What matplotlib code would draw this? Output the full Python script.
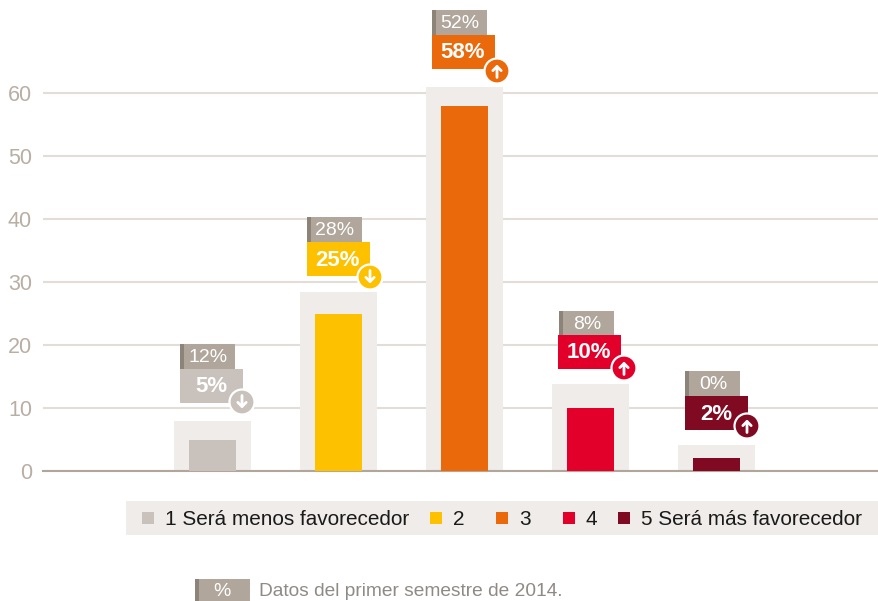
import matplotlib
matplotlib.use("Agg")
import matplotlib.pyplot as plt
from matplotlib.patches import Rectangle, Circle

plt.rcParams['font.family'] = ['Liberation Sans', 'DejaVu Sans']

positions = [1, 2, 3, 4, 5]
current_values = [5, 25, 58, 10, 2]
background_values = [8, 28.5, 61.1, 13.8, 4.1]
current_labels = ['5%', '25%', '58%', '10%', '2%']
previous_labels = ['12%', '28%', '52%', '8%', '0%']
directions = ['down', 'down', 'up', 'up', 'up']
colors = ['#c9c1bb', '#fdc100', '#ea690b', '#e2002a', '#800a22']
legend_labels = ['1 Será menos favorecedor', '2', '3', '4', '5 Será más favorecedor']
yticks = [0, 10, 20, 30, 40, 50, 60]

BG = '#f0ece9'
GREY = '#b0a69b'
STRIP = '#8c8379'
GRID = '#e3ddd8'
TICK = '#b9aea4'

W, H = 879, 601
fig = plt.figure(figsize=(W / 100, H / 100), dpi=100)

# main chart axes: y=0 at pixel 471, y=60 at pixel 93.5
ax = fig.add_axes([43 / W, (H - 471) / H, (W - 43) / W, 471 / H])
ax.set_ylim(0, 471 / 6.292)
ax.set_xlim(1 + (43 - 212.4) / 126.0, 1 + (W - 212.4) / 126.0)
ax.set_axisbelow(True)
ax.grid(axis='y', color=GRID, lw=1.5)
ax.set_yticks(yticks)
ax.set_yticklabels([str(t) for t in yticks], fontsize=15.5, color=TICK)
ax.tick_params(axis='y', length=0, pad=8)
ax.set_xticks([])
for s in ['top', 'right', 'left']:
    ax.spines[s].set_visible(False)
ax.spines['bottom'].set_color(GREY)
ax.spines['bottom'].set_linewidth(1.5)
ax.bar(positions, background_values, width=77 / 126, color=BG, zorder=2)
ax.bar(positions, current_values, width=47 / 126, color=colors, zorder=3)
ax.patch.set_alpha(0)

# overlay in pixel coordinates for callouts, legend and footnote
ov = fig.add_axes([0, 0, 1, 1])
ov.set_xlim(0, W)
ov.set_ylim(H, 0)
ov.axis('off')
ov.patch.set_alpha(0)

# left, top of grey box; left, top of coloured box; circle centre
grey_boxes = [(180, 344), (307, 217), (432, 10), (559, 311), (685, 371)]
main_boxes = [(180, 368.5), (307, 242), (432, 35), (558, 335), (685, 396)]
circles = [(242, 402), (370, 277), (497, 71), (624, 368), (747, 426)]

for i in range(5):
    gx, gy = grey_boxes[i]
    mx, my = main_boxes[i]
    cx, cy = circles[i]
    ov.add_patch(Rectangle((gx, gy), 55, 25, color=GREY, lw=0, zorder=5))
    ov.add_patch(Rectangle((gx, gy), 4, 25, color=STRIP, lw=0, zorder=6))
    ov.text(gx + 28, gy + 13.5, previous_labels[i], color='white', fontsize=14,
            ha='center', va='center', zorder=7)
    ov.add_patch(Rectangle((mx, my), 63, 34, color=colors[i], lw=0, zorder=6))
    ov.text(mx + 31, my + 18, current_labels[i], color='white', fontsize=16,
            fontweight='bold', ha='center', va='center', zorder=7)
    ov.add_patch(Circle((cx, cy), 12.5, fc=colors[i], ec='white', lw=1.6, zorder=8))
    if directions[i] == 'up':
        start, end = (cx, cy + 6.5), (cx, cy - 6.5)
    else:
        start, end = (cx, cy - 6.5), (cx, cy + 6.5)
    ov.annotate('', xy=end, xytext=start, zorder=9,
                arrowprops=dict(arrowstyle='->,head_width=0.3,head_length=0.3',
                                color='white', lw=2, shrinkA=0, shrinkB=0))

# legend
ov.add_patch(Rectangle((126, 501), W - 126, 34, color=BG, lw=0))
swatch_x = [142, 430, 496, 563, 618]
text_x = [165, 453, 519, 586, 641]
for sx, tx, col, lab in zip(swatch_x, text_x, colors, legend_labels):
    ov.add_patch(Rectangle((sx, 512), 12, 12, color=col, lw=0))
    ov.text(tx, 519.5, lab, fontsize=14.95, color='#1a1a1a', ha='left', va='center')

# footnote
ov.add_patch(Rectangle((195, 579), 55, 22, color=GREY, lw=0))
ov.add_patch(Rectangle((195, 579), 4, 22, color=STRIP, lw=0))
ov.text(222, 592, '%', color='white', fontsize=14, ha='center', va='center')
ov.text(259, 591.5, 'Datos del primer semestre de 2014.', color='#8f8a85',
        fontsize=13.8, ha='left', va='center')

fig.savefig('out.png', dpi=100)
